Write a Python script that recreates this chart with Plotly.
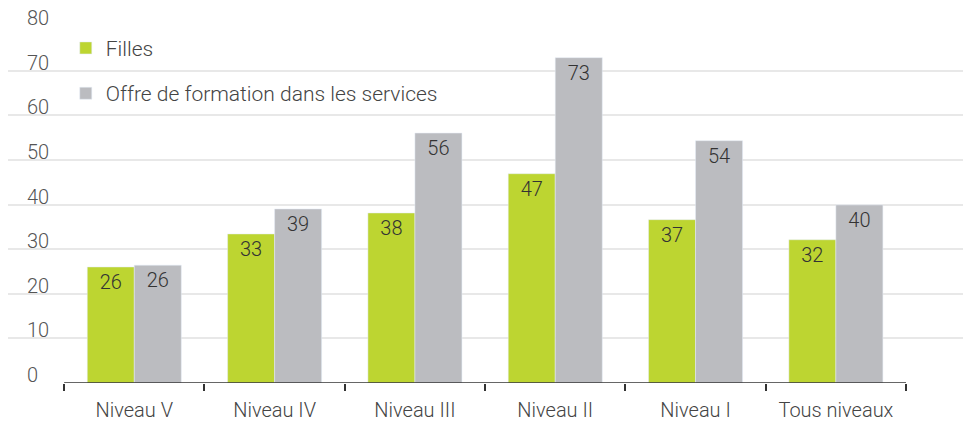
import plotly.graph_objects as go

categories = ["Niveau V", "Niveau IV", "Niveau III", "Niveau II", "Niveau I", "Tous niveaux"]
filles = [26.0, 33.4, 38.1, 46.9, 36.6, 32.1]
offre = [26.4, 39.0, 56.0, 72.9, 54.3, 39.9]
y_ticks = [0, 10, 20, 30, 40, 50, 60, 70, 80]

GREEN = "#BDD531"
GREY = "#BBBCC0"
TXT = "#333333"
FONT = "Roboto"
W = 300
FS = 20

fig = go.Figure()
fig.add_trace(go.Bar(
    x=categories, y=filles, name="Filles", marker_color=GREEN, legendgroup="a",
    texttemplate="%{y:.0f}", textposition="inside", insidetextanchor="end",
    textfont=dict(color=TXT, size=FS, family=FONT, weight=W), cliponaxis=False,
))
fig.add_trace(go.Bar(
    x=categories, y=offre, name="Offre de formation dans les services", marker_color=GREY,
    legendgroup="b",
    texttemplate="%{y:.0f}", textposition="inside", insidetextanchor="end",
    textfont=dict(color=TXT, size=FS, family=FONT, weight=W), cliponaxis=False,
))

annotations = [
    dict(x=0.0187, xref="paper", y=v, yref="y", text=str(v), showarrow=False,
         xanchor="left", yanchor="bottom", yshift=-5, borderpad=0,
         font=dict(family=FONT, size=FS, color="#555", weight=W))
    for v in y_ticks
]

fig.update_layout(
    width=963, height=414,
    margin=dict(l=0, r=0, t=18, b=39, autoexpand=False),
    paper_bgcolor="white", plot_bgcolor="white",
    font=dict(family=FONT, size=FS, color="#444", weight=W),
    barmode="group", bargap=0.33, bargroupgap=0,
    showlegend=True,
    legend=dict(x=0.060, y=0.995, xanchor="left", yanchor="top",
                traceorder="grouped", tracegroupgap=15,
                itemwidth=30, font=dict(family=FONT, size=FS + 1, color="#444", weight=W),
                bgcolor="rgba(0,0,0,0)"),
    annotations=annotations,
    shapes=[dict(type="line", xref="x", yref="y", x0=-0.5, x1=5.5, y0=0, y1=0,
                 line=dict(color="#333", width=1.5), layer="above")],
)
fig.update_xaxes(
    type="category", range=[-0.9, 5.963], showgrid=False, showline=False,
    zeroline=False, ticks="outside", tickson="boundaries", ticklen=7,
    tickwidth=1.5, tickcolor="#333", automargin=False, ticklabelstandoff=13,
    tickfont=dict(family=FONT, size=FS, color="#444", weight=W),
)
fig.update_yaxes(
    range=[0, 80], tickvals=y_ticks, showticklabels=False, showgrid=True,
    gridcolor="#E8E8E8", gridwidth=2, zeroline=False, showline=False,
    automargin=False,
)

fig.write_html("out.html")
